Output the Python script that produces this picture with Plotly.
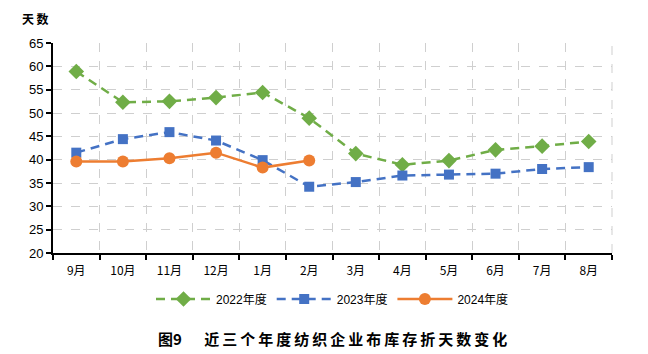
import plotly.graph_objects as go

months = ["9月", "10月", "11月", "12月", "1月", "2月", "3月", "4月", "5月", "6月", "7月", "8月"]
y2022 = [58.9, 52.3, 52.5, 53.3, 54.4, 48.9, 41.3, 38.9, 39.8, 42.1, 42.9, 43.9]
y2023 = [41.5, 44.4, 45.9, 44.1, 39.9, 34.2, 35.2, 36.6, 36.8, 37.0, 38.0, 38.4]
y2024 = [39.6, 39.6, 40.3, 41.5, 38.3, 39.8]
yticks = [20, 25, 30, 35, 40, 45, 50, 55, 60, 65]

fig = go.Figure()
fig.add_trace(go.Scatter(x=months, y=y2022, name="2022年度", mode="lines+markers",
                         line=dict(color="#70AD47", width=2.5, dash="9px,6px"),
                         marker=dict(symbol="diamond", size=12, color="#70AD47")))
fig.add_trace(go.Scatter(x=months, y=y2023, name="2023年度", mode="lines+markers",
                         line=dict(color="#4472C4", width=2.5, dash="9px,6px"),
                         marker=dict(symbol="square", size=10, color="#4472C4")))
fig.add_trace(go.Scatter(x=months[:len(y2024)], y=y2024, name="2024年度", mode="lines+markers",
                         line=dict(color="#ED7D31", width=2.5),
                         marker=dict(symbol="circle", size=12, color="#ED7D31")))

fig.update_layout(
    width=648, height=354,
    margin=dict(l=53, r=36, t=43, b=101),
    paper_bgcolor="white", plot_bgcolor="white",
    font=dict(family="Liberation Sans, Noto Sans CJK SC", color="#000000"),
    showlegend=True,
    legend=dict(orientation="h", x=0.5, xanchor="center", y=-0.219, yanchor="middle",
                font=dict(size=12, family="Liberation Sans, Noto Sans CJK SC"),
                itemwidth=55, traceorder="normal"),
    xaxis=dict(type="category", tickson="boundaries", ticks="outside", ticklen=5,
               tickcolor="black", tickwidth=2, ticklabelstandoff=6,
               showline=True, linecolor="black", linewidth=2,
               showgrid=True, gridcolor="#CFCFCF", griddash="dash", gridwidth=1,
               tickfont=dict(size=12, family="Noto Sans CJK SC"),
               range=[-0.5, 11.5], mirror=False),
    yaxis=dict(range=[20, 65], tickvals=yticks, ticks="outside", ticklen=5,
               tickcolor="black", tickwidth=2,
               showline=True, linecolor="black", linewidth=2,
               showgrid=True, gridcolor="#CFCFCF", griddash="dash", gridwidth=1,
               tickfont=dict(size=13, family="Liberation Sans"), zeroline=False),
    annotations=[
        dict(text="<b>天\u2009数</b>", xref="paper", yref="paper", x=-0.059, y=1.119,
             xanchor="left", yanchor="middle", showarrow=False,
             font=dict(size=12, family="Noto Sans CJK SC")),
        dict(text="<b>图9\u2003\u2002近\u2009三\u2009个\u2009年\u2009度\u2009纺\u2009织\u2009企\u2009业\u2009布\u2009库\u2009存\u2009折\u2009天\u2009数\u2009变\u2009化</b>",
             xref="paper", yref="paper",
             x=0.5, y=-0.405, xanchor="center", yanchor="middle", showarrow=False,
             font=dict(size=15, family="Noto Sans CJK SC")),
    ],
)
# right border dashed gridline
fig.add_shape(type="line", xref="paper", yref="paper", x0=1, x1=1, y0=0, y1=1,
              line=dict(color="#CFCFCF", width=1, dash="dash"))

fig.write_html("out.html")
